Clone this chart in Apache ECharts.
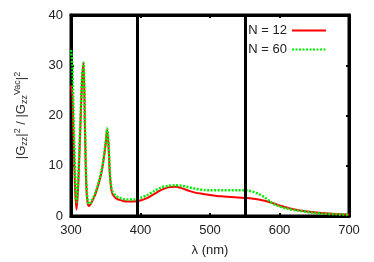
<!DOCTYPE html>
<html><head><meta charset="utf-8">
<script src="https://cdn.jsdelivr.net/npm/echarts@6/dist/echarts.min.js"></script>
<style>html,body{margin:0;padding:0;background:#fff}#c{width:374px;height:262px}</style>
</head><body><div id="c"></div>
<script>
const lambda = [300,302,304,306,308,310,312,314,316,318,320,322,324,326,328,330,335,340,345,350,352,354,356,358,360,365,370,375,380,390,400,410,420,430,440,450,460,470,480,490,500,510,520,530,540,550,560,570,580,590,600,610,620,640,660,680,700];
const n12 = [26,24,14,5,1.3,5,12,20,27,30.5,18,6,2.5,2.0,2.3,2.8,4.3,6.5,9.5,14.5,17.2,14,8,5.3,4.3,3.5,3.2,3.0,2.9,2.9,3.1,3.6,4.4,5.2,5.7,5.8,5.5,5.0,4.6,4.4,4.2,4.0,3.9,3.8,3.7,3.6,3.5,3.3,3.0,2.6,2.1,1.7,1.35,0.9,0.6,0.4,0.3];
const n60 = [33,30,18,8,2.8,6,13,21,28,30.5,19,7,3,2.4,2.6,3.1,4.6,6.8,9.8,14.8,17.4,14.5,8.5,5.8,4.8,4.0,3.6,3.4,3.3,3.3,3.6,4.2,5.0,5.7,6.0,6.1,6.0,5.7,5.4,5.2,5.1,5.1,5.1,5.1,5.1,5.1,4.9,4.4,3.6,2.5,1.9,1.5,1.2,0.8,0.5,0.35,0.25];
const markers = [395, 550];
const xTicks = [300,400,500,600,700];
const yTicks = [0,10,20,30,40];

const chart = echarts.init(document.getElementById('c'), null, {renderer:'canvas'});
const ff = 'Liberation Sans, Arial, sans-serif';
const zip = a => lambda.map((l,i)=>[l,a[i]]);
const axisCommon = () => ({
  axisLine:{show:true,onZero:false,lineStyle:{color:'#000',width:3}},
  axisTick:{show:true,inside:true,length:3,lineStyle:{color:'#000',width:2}},
  splitLine:{show:false}
});
chart.setOption({
  animation:false,
  textStyle:{fontFamily:ff},
  grid:{left:71,right:25,top:15,bottom:42,show:true,borderColor:'#000',borderWidth:3,backgroundColor:'transparent'},
  legend:{
    orient:'vertical', right:42, top:19, align:'right', itemGap:6,
    itemWidth:34, itemHeight:12,
    itemStyle:{opacity:0},
    textStyle:{fontSize:13,color:'#222',fontFamily:ff},
    data:['N = 12','N = 60']
  },
  xAxis:[
    Object.assign(axisCommon(),{type:'value',min:300,max:700,interval:100,position:'bottom',
      name:'λ (nm)',nameLocation:'middle',nameGap:28,
      nameTextStyle:{fontSize:13,color:'#222',fontFamily:ff},
      axisLabel:{fontSize:13,color:'#222',margin:8,fontFamily:ff,formatter:v=>xTicks.includes(v)?String(v):''}}),
    Object.assign(axisCommon(),{type:'value',min:300,max:700,interval:100,position:'top',axisLabel:{show:false}})
  ],
  yAxis:[
    Object.assign(axisCommon(),{type:'value',min:0,max:40,interval:10,position:'left',
      name:'{n||G}{sub|zz}{n||}{sup|2}{n| / |G}{sub|zz}{sup|Vac}{n||}{sup|2}',
      nameLocation:'middle',nameGap:42,nameRotate:90,
      nameTextStyle:{fontSize:13,color:'#333',fontFamily:ff,
        rich:{n:{fontSize:13,fontFamily:ff,color:'#333'},
              sub:{fontSize:9,fontFamily:ff,color:'#333',padding:[7,0,0,0]},
              sup:{fontSize:9,fontFamily:ff,color:'#333',padding:[0,0,7,0]}}},
      axisLabel:{fontSize:13,color:'#222',margin:8,fontFamily:ff,formatter:v=>yTicks.includes(v)?String(v):''}}),
    Object.assign(axisCommon(),{type:'value',min:0,max:40,interval:10,position:'right',axisLabel:{show:false}})
  ],
  series:[
    {name:'N = 12',type:'line',data:zip(n12),smooth:0.3,symbol:'none',
     lineStyle:{color:'#ff0000',width:2},itemStyle:{color:'#ff0000'},
     markLine:{silent:true,symbol:'none',label:{show:false},
       lineStyle:{color:'#000',width:3,type:'solid'},
       data:markers.map(m=>({xAxis:m}))}},
    {name:'N = 60',type:'line',data:zip(n60),smooth:0.3,symbol:'none',
     lineStyle:{color:'#00ee00',width:2.5,type:[2,1.5]},itemStyle:{color:'#00ee00'}}
  ]
});
</script></body></html>
